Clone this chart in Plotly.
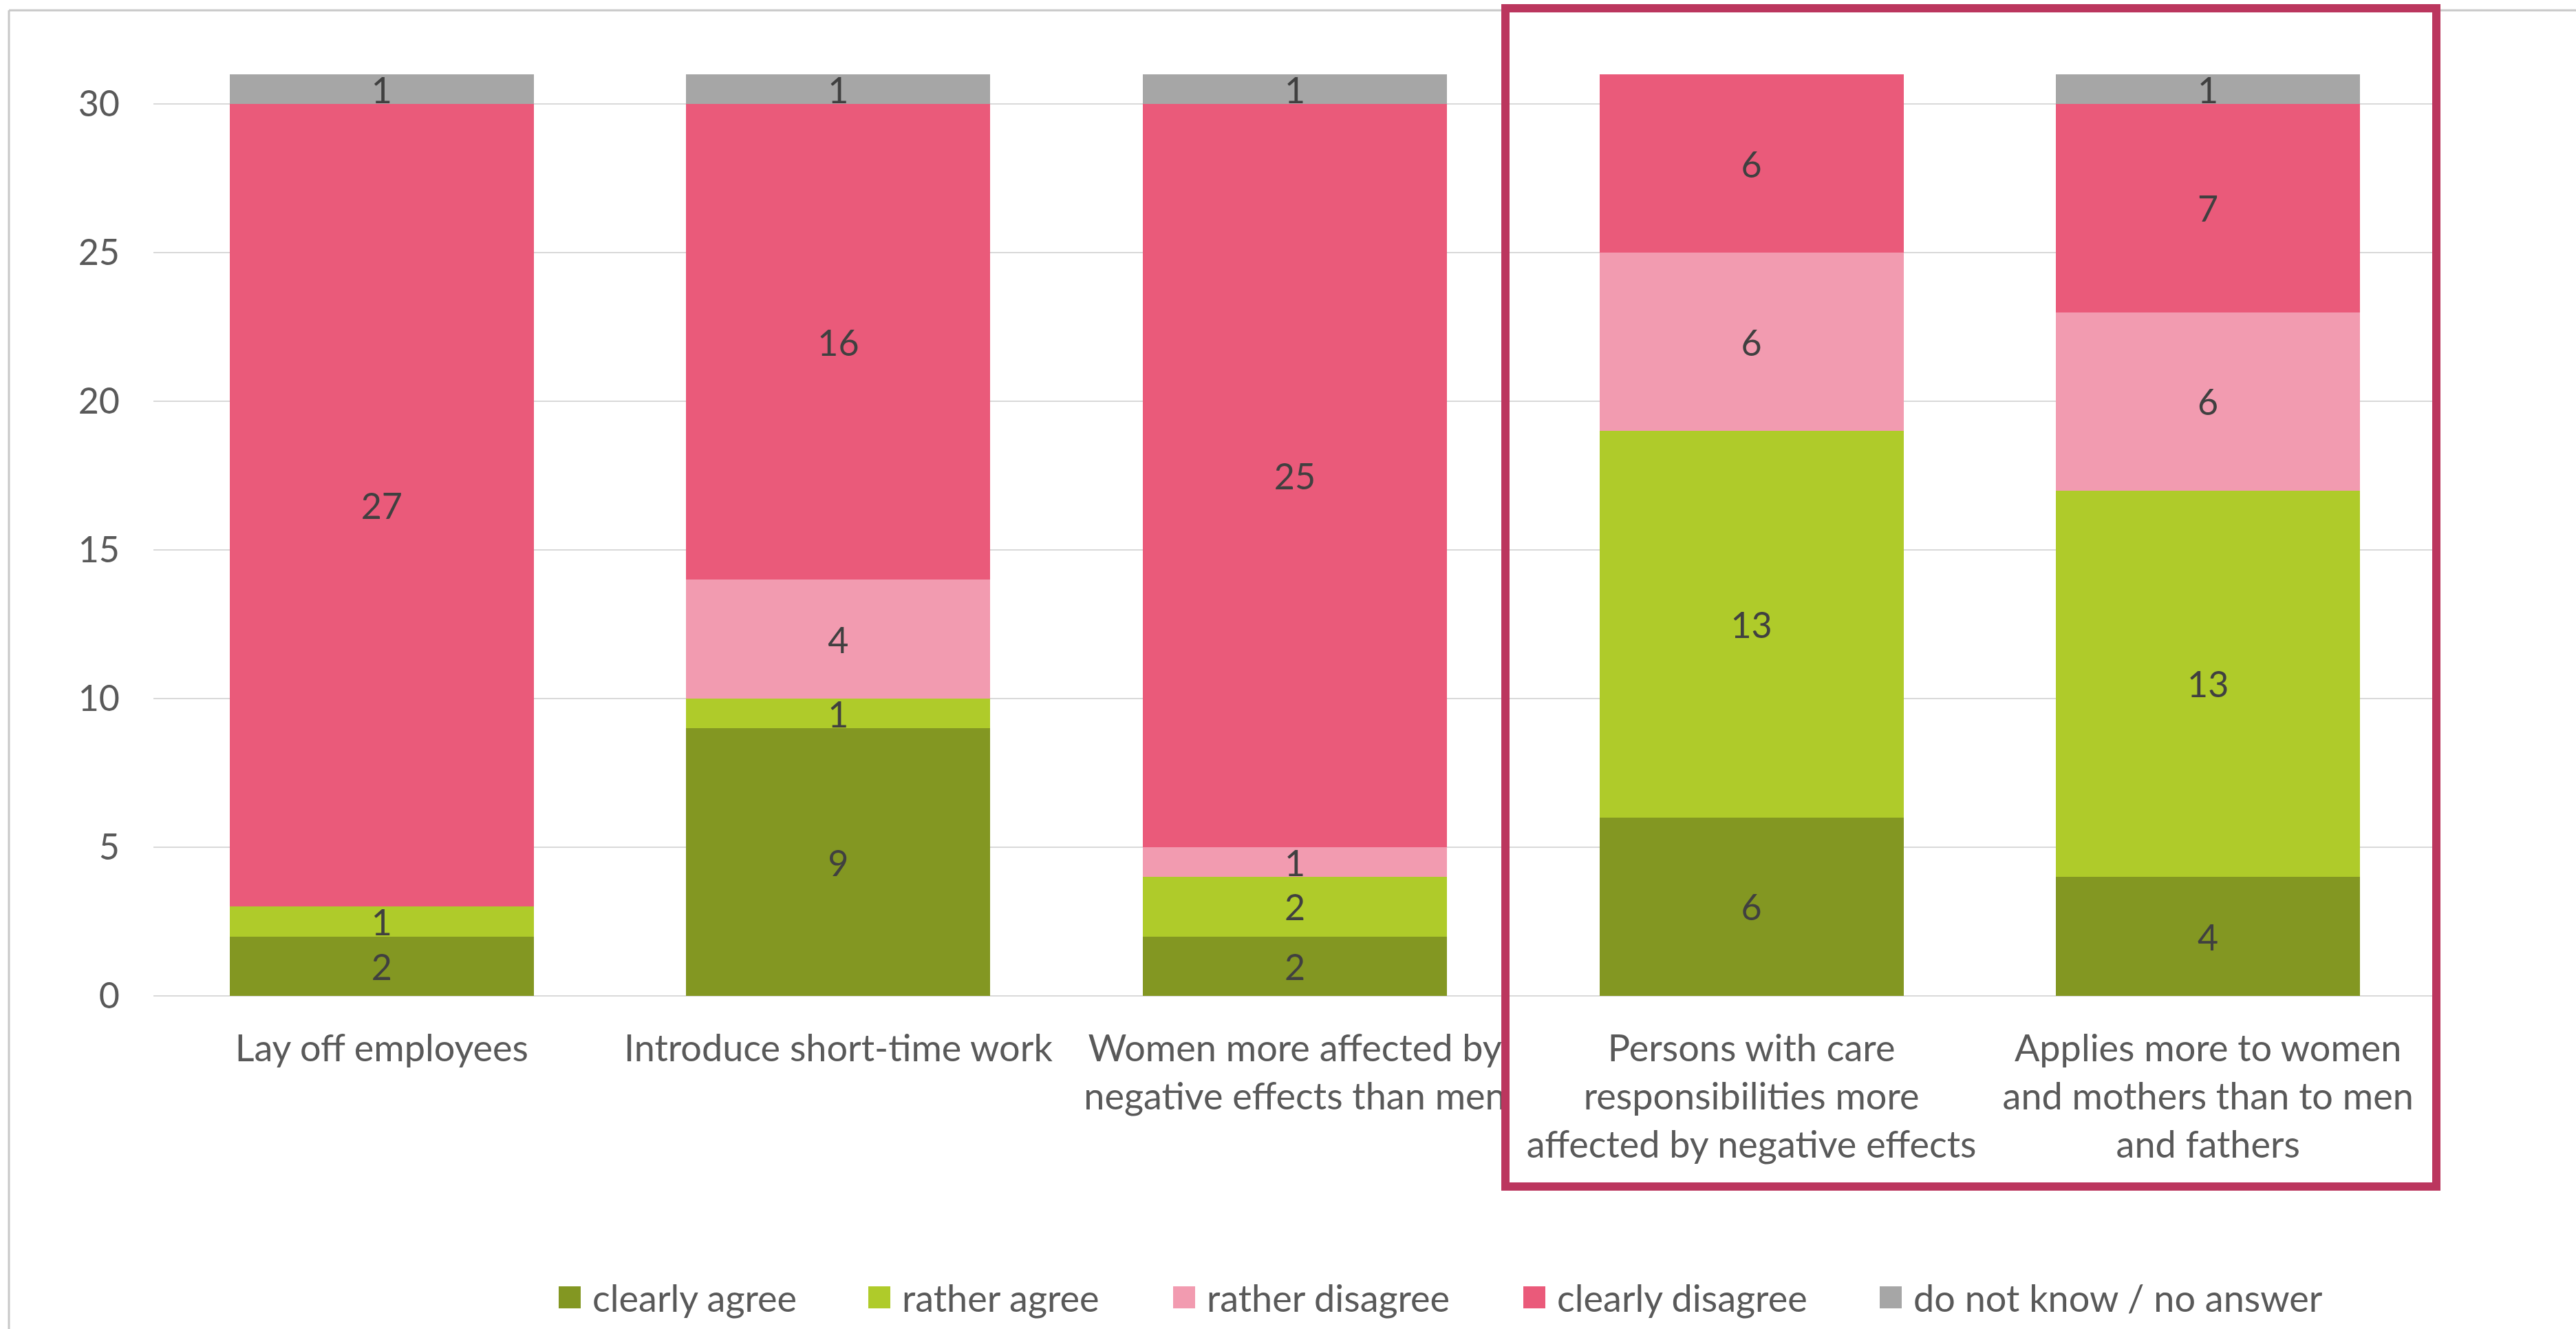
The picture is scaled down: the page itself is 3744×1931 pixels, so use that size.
import plotly.graph_objects as go

# ---------------- data ----------------
categories = [
    "Lay off employees",
    "Introduce short-time work",
    "Women more affected by<br>negative effects than men",
    "Persons with care<br>responsibilities more<br>affected by negative effects",
    "Applies more to women<br>and mothers than to men<br>and fathers",
]
series_names = ["clearly agree", "rather agree", "rather disagree",
                "clearly disagree", "do not know / no answer"]
clearly_agree = [2, 9, 2, 6, 4]
rather_agree = [1, 1, 2, 13, 13]
rather_disagree = [0, 4, 1, 6, 6]
clearly_disagree = [27, 16, 25, 6, 7]
dont_know = [1, 1, 1, 0, 1]
y_ticks = [0, 5, 10, 15, 20, 25, 30]

series_values = [clearly_agree, rather_agree, rather_disagree, clearly_disagree, dont_know]
colors = ["#839722", "#AFCB2A", "#F29BB0", "#EA5A7A", "#A6A6A6"]

# ---------------- layout geometry (pixels) ----------------
W, H = 3744, 1931
ML, MR, MT, MB = 223, 203, 108, 484
PW = W - ML - MR
PH = H - MT - MB


def px_x(px):
    return (px - ML) / PW


def px_y(py):
    return (H - MB - py) / PH


FONT = "Lato, 'Open Sans', sans-serif"
FS = 54

fig = go.Figure()
for name, vals, col in zip(series_names, series_values, colors):
    fig.add_trace(go.Bar(
        x=categories, y=vals, name=name,
        marker=dict(color=col, line=dict(width=0)),
        text=[str(v) if v else "" for v in vals],
        textposition="inside", insidetextanchor="middle",
        textangle=0, constraintext="none",
        textfont=dict(family=FONT, size=52, color="#404040"),
        cliponaxis=False, showlegend=False,
        hoverinfo="skip",
    ))

shapes = []
annotations = []

# manual legend (large squares like the original)
legend_sq_left = [812, 1262, 1705, 2214, 2732]
legend_cy = 1885
sq = 32
for name, col, lx in zip(series_names, colors, legend_sq_left):
    shapes.append(dict(type="rect", xref="paper", yref="paper",
                       x0=px_x(lx), x1=px_x(lx + sq),
                       y0=px_y(legend_cy + sq / 2), y1=px_y(legend_cy - sq / 2),
                       fillcolor=col, line=dict(width=0), layer="above"))
    annotations.append(dict(xref="paper", yref="paper",
                            x=px_x(lx + sq + 15), y=px_y(legend_cy),
                            xanchor="left", yanchor="middle", showarrow=False,
                            text=name, font=dict(family=FONT, size=FS, color="#595959")))

# chart-area border (top and left visible)
shapes.append(dict(type="line", xref="paper", yref="paper",
                   x0=px_x(13), x1=px_x(W + 5), y0=px_y(15), y1=px_y(15),
                   line=dict(color="#C8C8C8", width=3), layer="above"))
shapes.append(dict(type="line", xref="paper", yref="paper",
                   x0=px_x(13), x1=px_x(13), y0=px_y(15), y1=px_y(H + 5),
                   line=dict(color="#C8C8C8", width=3), layer="above"))

# highlight box
shapes.append(dict(type="rect", xref="paper", yref="paper",
                   x0=px_x(2188), x1=px_x(3541), y0=px_y(1724), y1=px_y(12),
                   line=dict(color="#BB365E", width=12), fillcolor="rgba(0,0,0,0)",
                   layer="above"))

fig.update_layout(
    barmode="stack",
    bargap=0.334,
    width=W, height=H,
    margin=dict(l=ML, r=MR, t=MT, b=MB, autoexpand=False),
    paper_bgcolor="white", plot_bgcolor="white",
    font=dict(family=FONT, size=FS, color="#595959"),
    uniformtext=dict(minsize=50, mode="show"),
    showlegend=False,
    shapes=shapes,
    annotations=annotations,
    xaxis=dict(showgrid=False, showline=False, zeroline=False, ticks="",
               tickfont=dict(family=FONT, size=FS, color="#595959"),
               ticklabelstandoff=40, fixedrange=True),
    yaxis=dict(range=[0, 31], tickvals=y_ticks, showgrid=True, gridcolor="#D9D9D9",
               gridwidth=2, zeroline=True, zerolinecolor="#D9D9D9", zerolinewidth=2,
               showline=False, ticks="",
               tickfont=dict(family=FONT, size=52, color="#595959"),
               ticklabelstandoff=48, fixedrange=True),
)

fig.write_html("out.html")
